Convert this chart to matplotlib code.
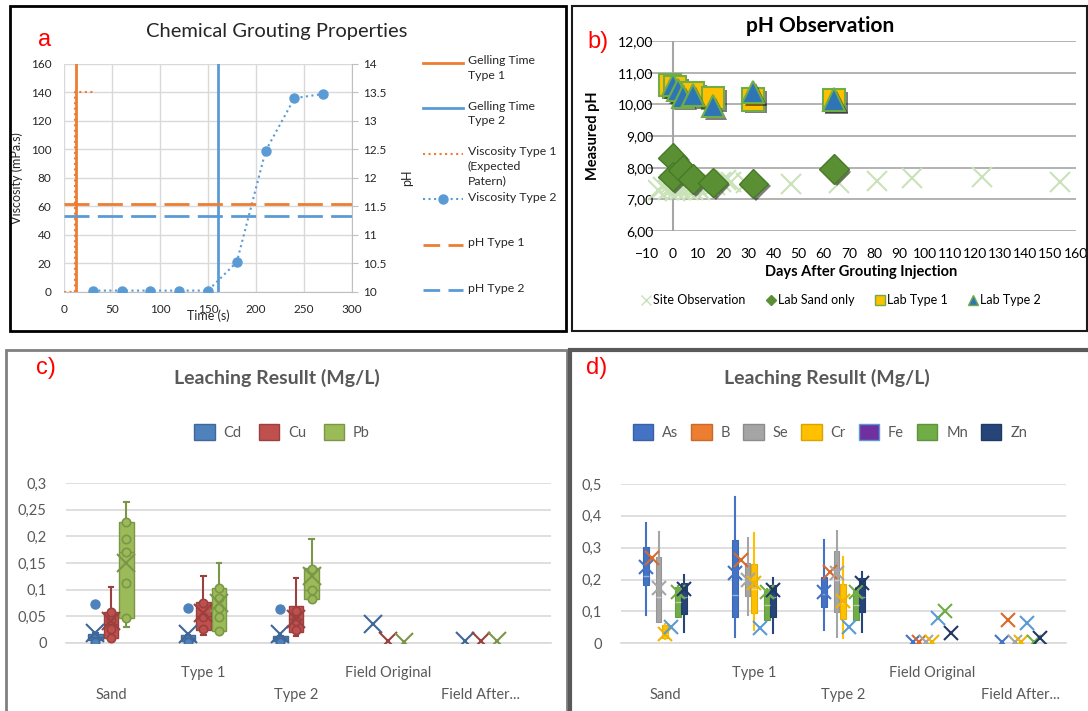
import matplotlib
matplotlib.use('Agg')
import matplotlib.pyplot as plt
import matplotlib.patheffects as pe
from matplotlib.lines import Line2D
from matplotlib.patches import Patch, Rectangle
from matplotlib.colors import to_rgb
import numpy as np

plt.rcParams['font.family'] = 'Lato'

W, H = 1088, 711

# ---------------- a) chemical grouting properties
visc2_time = [30, 60, 90, 120, 150, 180, 210, 240, 270]
visc2_val = [1, 1, 1, 1, 1, 21, 99, 136, 139]
visc1_time = [0, 11, 11, 30]          # expected pattern
visc1_val = [0, 0, 140, 140]
gel_time = [12, 160]                  # type 1, type 2
ph_level = [11.55, 11.33]             # type 1, type 2
a_ph_ticks = [10, 10.5, 11, 11.5, 12, 12.5, 13, 13.5, 14]
a_ph_labels = ['10', '10.5', '11', '11.5', '12', '12.5', '13', '13.5', '14']

# ---------------- b) pH observation
site_day = [-6, -4, -2, -1, 0, 1, 2, 3, 4, 5, 6, 7, 8, 9, 10, 11, 12, 13, 14, 15,
            17, 19, 21, 23, 29, 47, 66, 81, 95, 123, 154]
site_ph = [7.3, 7.4, 7.3, 7.5, 7.35, 7.25, 7.45, 7.3, 7.55, 7.35, 7.3, 7.45, 7.3, 7.5,
           7.35, 7.3, 7.45, 7.55, 7.35, 7.5, 7.45, 7.55, 7.6, 7.55, 7.53, 7.47, 7.53,
           7.58, 7.66, 7.71, 7.56]
sand_day = [0, 0, 4, 8, 16, 32, 64]
sand_ph = [8.32, 7.72, 7.92, 7.64, 7.53, 7.5, 7.96]
t1_day = [-1, 1, 4, 8, 16, 32, 64]
t1_ph = [10.62, 10.55, 10.35, 10.35, 10.2, 10.15, 10.13]
t2_day = [0, 2, 4, 8, 16, 32, 64]
t2_ph = [10.6, 10.45, 10.25, 10.3, 9.95, 10.4, 10.15]
b_yticks = [6, 7, 8, 9, 10, 11, 12]
b_ylabels = ['6,00', '7,00', '8,00', '9,00', '10,00', '11,00', '12,00']

# ---------------- c) leaching, heavy metals
groups = ['Sand', 'Type 1', 'Type 2', 'Field Original', 'Field After...']
c_series = ['Cd', 'Cu', 'Pb']
c_q1 = {'Cd': [0.005, 0.004, 0.004], 'Cu': [0.008, 0.023, 0.020], 'Pb': [0.046, 0.022, 0.082]}
c_med = {'Cd': [0.010, 0.008, 0.008], 'Cu': [0.035, 0.050, 0.045], 'Pb': [0.170, 0.065, 0.099]}
c_q3 = {'Cd': [0.017, 0.015, 0.013], 'Cu': [0.057, 0.076, 0.070], 'Pb': [0.228, 0.103, 0.140]}
c_lo = {'Cd': [0.002, 0.002, 0.002], 'Cu': [0.007, 0.014, 0.012], 'Pb': [0.029, 0.020, 0.082]}
c_hi = {'Cd': [0.018, 0.015, 0.013], 'Cu': [0.105, 0.125, 0.122], 'Pb': [0.264, 0.150, 0.196]}
c_out = {'Cd': [[0.072], [0.065], [0.064]], 'Cu': [[], [], []], 'Pb': [[], [], []]}
c_pts = {'Cd': [[0.002], [0.002], [0.002]],
         'Cu': [[0.008, 0.026, 0.043, 0.057], [0.025, 0.048, 0.075], [0.023, 0.040, 0.060]],
         'Pb': [[0.046, 0.112, 0.170, 0.195, 0.228], [0.022, 0.048, 0.065, 0.084, 0.103],
                [0.082, 0.099, 0.138]]}
c_mean = {'Cd': [0.019, 0.017, 0.017, 0.035, 0.003],
          'Cu': [0.040, 0.055, 0.045, 0.003, 0.003],
          'Pb': [0.150, 0.074, 0.125, 0.002, 0.003]}
c_yticks = [0, 0.05, 0.1, 0.15, 0.2, 0.25, 0.3]
c_ylabels = ['0', '0,05', '0,1', '0,15', '0,2', '0,25', '0,3']

# ---------------- d) leaching, other elements
d_series = ['As', 'B', 'Se', 'Cr', 'Fe', 'Mn', 'Zn']
d_q1 = {'As': [0.183, 0.084, 0.113], 'Se': [0.068, 0.149, 0.099], 'Cr': [0.016, 0.094, 0.075],
        'Mn': [0.082, 0.073, 0.073], 'Zn': [0.092, 0.082, 0.099]}
d_med = {'As': [0.210, 0.152, 0.155], 'Se': [0.146, 0.200, 0.200], 'Cr': [0.030, 0.170, 0.125],
         'Mn': [0.130, 0.120, 0.120], 'Zn': [0.146, 0.146, 0.146]}
d_q3 = {'As': [0.301, 0.324, 0.209], 'Se': [0.272, 0.253, 0.290], 'Cr': [0.058, 0.248, 0.186],
        'Mn': [0.178, 0.165, 0.165], 'Zn': [0.190, 0.183, 0.206]}
d_lo = {'As': [0.089, 0.021, 0.042], 'Se': [0.068, 0.089, 0.021], 'Cr': [0.012, 0.042, 0.018],
        'Mn': [0.082, 0.073, 0.073], 'Zn': [0.037, 0.031, 0.037]}
d_hi = {'As': [0.379, 0.460, 0.324], 'Se': [0.348, 0.332, 0.354], 'Cr': [0.060, 0.347, 0.270],
        'Mn': [0.180, 0.170, 0.175], 'Zn': [0.214, 0.204, 0.223]}
d_mean = {'As': [0.240, 0.220, 0.162, 0.005, 0.005],
          'B': [0.267, 0.260, 0.223, 0.005, 0.073],
          'Se': [0.173, 0.200, 0.220, 0.005, 0.005],
          'Cr': [0.030, 0.188, 0.133, 0.005, 0.005],
          'Fe': [0.050, 0.047, 0.050, 0.080, 0.063],
          'Mn': [0.162, 0.160, 0.162, 0.100, 0.005],
          'Zn': [0.170, 0.167, 0.190, 0.031, 0.016]}
d_yticks = [0, 0.1, 0.2, 0.3, 0.4, 0.5]
d_ylabels = ['0', '0,1', '0,2', '0,3', '0,4', '0,5']

orange = '#ed7d31'
blue = '#5b9bd5'
grey_txt = '#595959'
grid_c = '#d9d9d9'


def box(l, t, r, b):
    return [l / W, 1 - b / H, (r - l) / W, (b - t) / H]


def ftext(x, y, s, **kw):
    fig.text(x / W, 1 - y / H, s, **kw)


def tint(c, f):
    r = np.array(to_rgb(c))
    return tuple(r + (1 - r) * f)


def shade(c, f):
    return tuple(np.array(to_rgb(c)) * (1 - f))


fig = plt.figure(figsize=(W / 100, H / 100), dpi=100)

# panel frames
frames = [((10, 6, 566, 331), 'black', 2.0),
          ((572, 6, 1087, 331), '#1a1a1a', 1.5),
          ((6, 350, 567, 730), '#808080', 2.0),
          ((570, 350, 1100, 730), '#595959', 3.0)]
for (l, t, r, b), c, lw in frames:
    fig.add_artist(Rectangle((l / W, 1 - b / H), (r - l) / W, (b - t) / H,
                             transform=fig.transFigure, fill=False, ec=c, lw=lw))

# ======================= panel a
ax = fig.add_axes(box(64, 64, 352, 292))
ax.set_xlim(0, 300)
ax.set_ylim(0, 160)
ax.set_xticks(range(0, 301, 50))
ax.set_yticks(range(0, 161, 20))
ax.grid(color=grid_c, lw=1)
ax.set_axisbelow(True)
for s in ax.spines.values():
    s.set_visible(False)
ax.spines['bottom'].set_visible(True)
ax.spines['bottom'].set_color('#bfbfbf')
ax.tick_params(length=0, labelsize=8.5, labelcolor='#262626', pad=9)
ax.plot([gel_time[0]] * 2, [0, 160], color=orange, lw=2, zorder=3)
ax.plot([gel_time[1]] * 2, [0, 160], color=blue, lw=2, zorder=3)
ax.plot(visc1_time, visc1_val, color=orange, ls=':', lw=1.5)
ax.plot(visc2_time, visc2_val, color=blue, ls=':', lw=1.5, marker='o', ms=6.5, zorder=4)
ax.set_ylabel('Viscosity (mPa.s)', fontsize=9, color='#262626')
ax.yaxis.set_label_coords(-0.142, 0.5)
ax.set_xlabel('Time (s)', fontsize=9, color='#262626')
ax.xaxis.set_label_coords(0.5, -0.075)

ax2 = ax.twinx()
ax2.set_ylim(10, 14)
ax2.set_yticks(a_ph_ticks)
ax2.set_yticklabels(a_ph_labels)
for s in ax2.spines.values():
    s.set_visible(False)
ax2.spines['right'].set_visible(True)
ax2.spines['right'].set_color('#bfbfbf')
ax2.tick_params(length=4, color='#bfbfbf', labelsize=8.5, labelcolor='#262626', pad=4)
ax2.plot([0, 300], [ph_level[0]] * 2, color=orange, lw=2, dashes=(9, 3))
ax2.plot([0, 300], [ph_level[1]] * 2, color=blue, lw=2, dashes=(9, 3))
ax2.set_ylabel('pH', fontsize=9, color='#262626')
ax2.yaxis.set_label_coords(1.17, 0.5)

ftext(277, 32, 'Chemical Grouting Properties', fontsize=14.5, ha='center', va='center',
      color='#262626')
ftext(45, 40, 'a', fontsize=17, color='red', ha='center', va='center',
      family='Liberation Sans')

# manual legend for panel a
a_leg = [('Gelling Time\nType 1', dict(color=orange, lw=2)),
         ('Gelling Time\nType 2', dict(color=blue, lw=2)),
         ('Viscosity Type 1\n(Expected\nPatern)', dict(color=orange, lw=1.5, ls=':')),
         ('Viscosity Type 2', dict(color=blue, lw=1.5, ls=':', marker='o', ms=6.5,
                                   markevery=[1])),
         ('pH Type 1', dict(color=orange, lw=2, dashes=(6, 3))),
         ('pH Type 2', dict(color=blue, lw=2, dashes=(6, 3)))]
for i, (lab, st) in enumerate(a_leg):
    yy = 1 - (63 + 45.4 * i) / H
    fig.add_artist(Line2D([423 / W, 443 / W, 463 / W], [yy] * 3,
                          transform=fig.transFigure, **st))
    fig.text(468 / W, yy + 7.5 / H, lab, fontsize=8.8, va='top', ha='left',
             color='#262626', linespacing=1.4)

# ======================= panel b
axb = fig.add_axes(box(647.5, 41, 1075.5, 231))
axb.set_xlim(-10, 160)
axb.set_ylim(6, 12)
axb.set_xticks(range(-10, 161, 10))
axb.set_yticks(b_yticks)
axb.set_yticklabels(b_ylabels)
for s in axb.spines.values():
    s.set_visible(False)
axb.grid(axis='y', color='#a6a6a6', lw=1.2)
axb.axvline(0, color='#a6a6a6', lw=1.5, zorder=1)
axb.set_axisbelow(True)
axb.tick_params(length=0, labelsize=10, colors='black')
axb.tick_params(axis='y', pad=-4)
axb.tick_params(axis='x', pad=12)

site_c = '#c9e2b8'
axb.plot(site_day, site_ph, ls='none', marker='x', ms=15, mew=1.5, color=site_c, zorder=2)
shadow = [pe.SimplePatchShadow(offset=(2, -2), shadow_rgbFace='black', alpha=0.5), pe.Normal()]
axb.plot(sand_day, sand_ph, ls='none', marker='D', ms=15, mfc='#5b8f33', mec='#467a28',
         mew=1, zorder=3, path_effects=shadow)
axb.plot(t1_day, t1_ph, ls='none', marker='s', ms=16, mfc='#ffc000', mec='#70ad47',
         mew=1.5, zorder=4, path_effects=shadow)
axb.plot(t2_day, t2_ph, ls='none', marker='^', ms=16, mfc='#2e75b6', mec='#70ad47',
         mew=1.5, zorder=5, path_effects=shadow)
axb.set_ylabel('Measured pH', fontsize=10.5, fontweight='bold')
axb.yaxis.set_label_coords(-0.11, 0.5)
axb.set_xlabel('Days After Grouting Injection', fontsize=10.5, fontweight='bold')
axb.xaxis.set_label_coords(0.5, -0.18)

b_handles = [Line2D([], [], ls='none', marker='x', ms=7, color=site_c, mew=1),
             Line2D([], [], ls='none', marker='D', ms=5, mfc='#5b8f33', mec='#5b8f33'),
             Line2D([], [], ls='none', marker='s', ms=7, mfc='#ffc000', mec='#70ad47'),
             Line2D([], [], ls='none', marker='^', ms=7, mfc='#2e75b6', mec='#70ad47')]
axb.legend(b_handles, ['Site Observation', 'Lab Sand only', 'Lab Type 1', 'Lab Type 2'],
           loc='center', bbox_to_anchor=(841 / W, 1 - 300 / H), bbox_transform=fig.transFigure,
           ncol=4, frameon=False, fontsize=9, handlelength=0.8, handletextpad=0.2,
           columnspacing=1.6)
ftext(820, 26, 'pH Observation', fontsize=15, fontweight='bold', ha='center', va='center')
ftext(598, 42, 'b)', fontsize=17, color='red', ha='center', va='center',
      family='Liberation Sans')


def style_leach(a, yt, yl):
    a.set_yticks(yt)
    a.set_yticklabels(yl)
    a.set_xticks(range(len(groups)))
    a.set_xticklabels(groups)
    for s in a.spines.values():
        s.set_visible(False)
    a.spines['bottom'].set_visible(True)
    a.spines['bottom'].set_color(grid_c)
    a.spines['bottom'].set_linewidth(1.2)
    a.grid(axis='y', color=grid_c, lw=1.2)
    a.set_axisbelow(True)
    a.tick_params(length=0, labelsize=10.5, colors=grey_txt)
    a.tick_params(axis='y', pad=14)
    for i, t in enumerate(a.xaxis.get_major_ticks()):
        t.set_pad(16.5 if i % 2 else 32.5)


# ======================= panel c
c_cols = {'Cd': '#4f81bd', 'Cu': '#c0504d', 'Pb': '#9bbb59'}
axc = fig.add_axes(box(66, 483.3, 551, 642.7))
for i, name in enumerate(c_series):
    off = (i - 1) * 0.168
    col = c_cols[name]
    edge = shade(col, 0.2)
    pos = [g + off for g in range(3)]
    stats = [dict(med=c_med[name][g], q1=c_q1[name][g], q3=c_q3[name][g],
                  whislo=c_lo[name][g], whishi=c_hi[name][g], fliers=c_out[name][g])
             for g in range(3)]
    axc.bxp(stats, positions=pos, widths=0.155, patch_artist=True, showmeans=False,
            manage_ticks=False,
            boxprops=dict(facecolor=col, edgecolor=edge, lw=1),
            whiskerprops=dict(color=edge, lw=1.5), capprops=dict(color=edge, lw=1.5),
            capwidths=0.05, medianprops=dict(color=edge, lw=1),
            flierprops=dict(marker='o', mfc=col, mec=col, ms=6.5), zorder=3)
    for g in range(3):
        axc.plot([pos[g]] * len(c_pts[name][g]), c_pts[name][g], ls='none', marker='o',
                 ms=6, mfc=col, mec=edge, mew=1.2, zorder=4)
    axc.plot([g + off for g in range(5)], c_mean[name], ls='none', marker='x', ms=13,
             mew=1.5, color=edge, zorder=5)
axc.set_xlim(-0.486, 4.757)
axc.set_ylim(0, 0.3)
style_leach(axc, c_yticks, c_ylabels)
axc.legend([Patch(fc=c_cols[n], ec=shade(c_cols[n], 0.2)) for n in c_series], c_series,
           loc='center', bbox_to_anchor=(282 / W, 1 - 432 / H), bbox_transform=fig.transFigure,
           ncol=3, frameon=False, fontsize=10.5, labelcolor=grey_txt, handlelength=1.4,
           handleheight=1.4, handletextpad=0.6, columnspacing=1.2)
ftext(277, 378, 'Leaching Resullt (Mg/L)', fontsize=14, fontweight='bold', color=grey_txt,
      ha='center', va='center')
ftext(46, 368, 'c)', fontsize=17, color='red', ha='center', va='center',
      family='Liberation Sans')

# ======================= panel d
d_cols = {'As': '#4472c4', 'B': '#ed7d31', 'Se': '#a5a5a5', 'Cr': '#ffc000',
          'Fe': '#7030a0', 'Mn': '#70ad47', 'Zn': '#264478'}
d_mean_cols = {'As': '#4472c4', 'B': '#d9692a', 'Se': '#a5a5a5', 'Cr': '#f0b400',
               'Fe': '#5b9bd5', 'Mn': '#70ad47', 'Zn': '#1f3864'}
axd = fig.add_axes(box(621, 484, 1066, 643.3))
for i, name in enumerate(d_series):
    off = (i - 3) * 0.072
    col = d_cols[name]
    if name in d_q1:
        stats = [dict(med=d_med[name][g], q1=d_q1[name][g], q3=d_q3[name][g],
                      whislo=d_lo[name][g], whishi=d_hi[name][g], fliers=[])
                 for g in range(3)]
        axd.bxp(stats, positions=[g + off for g in range(3)], widths=0.066,
                patch_artist=True, showmeans=False, showcaps=False, manage_ticks=False,
                boxprops=dict(facecolor=col, edgecolor=shade(col, 0.1), lw=0.8),
                whiskerprops=dict(color=col, lw=1.5),
                medianprops=dict(color=tint(col, 0.45), lw=1), zorder=3)
    axd.plot([g + off for g in range(5)], d_mean[name], ls='none', marker='x', ms=10,
             mew=1.5, color=d_mean_cols[name], zorder=5)
axd.set_xlim(-0.494, 4.506)
axd.set_ylim(0, 0.5)
style_leach(axd, d_yticks, d_ylabels)
axd.legend([Patch(fc=d_cols[n], ec=('#5b9bd5' if n == 'Fe' else shade(d_cols[n], 0.15)))
            for n in d_series], d_series,
           loc='center', bbox_to_anchor=(830 / W, 1 - 432 / H), bbox_transform=fig.transFigure,
           ncol=7, frameon=False, fontsize=10.5, labelcolor=grey_txt, handlelength=1.4,
           handleheight=1.4, handletextpad=0.6, columnspacing=0.9)
ftext(827, 378, 'Leaching Resullt (Mg/L)', fontsize=14, fontweight='bold', color=grey_txt,
      ha='center', va='center')
ftext(597, 368, 'd)', fontsize=17, color='red', ha='center', va='center',
      family='Liberation Sans')

fig.savefig('out.png', dpi=100)
